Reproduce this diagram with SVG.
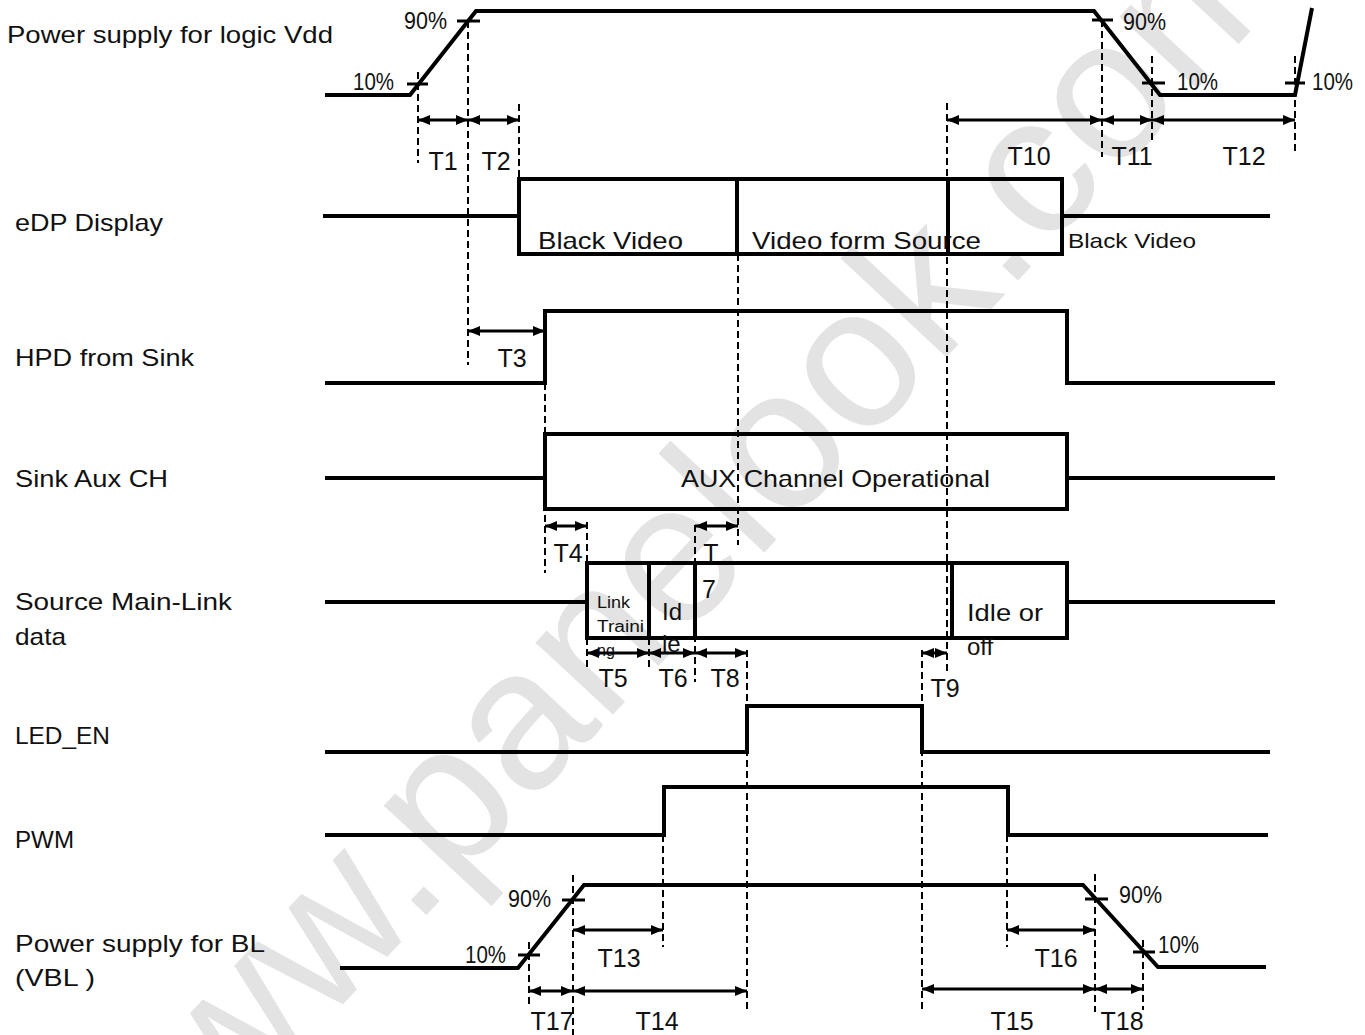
<svg xmlns="http://www.w3.org/2000/svg" width="1365" height="1035" viewBox="0 0 1365 1035">
<style>
text{font-family:"Liberation Sans",Arial,sans-serif;fill:#111}
.lbl{font-size:24px}
.t{font-size:25px;text-anchor:middle}
.pc{font-size:23px}
.sig{fill:none;stroke:#000;stroke-width:4;stroke-linejoin:miter}
.box{fill:none;stroke:#000;stroke-width:4}
.dash{fill:none;stroke:#000;stroke-width:2;stroke-dasharray:7 4}
.tick{stroke:#000;stroke-width:3}
.arr{stroke:#000;stroke-width:3;marker-start:url(#ah);marker-end:url(#ah)}
.wm{font-size:200px;fill:#e3e3e3}
</style>
<defs>
<marker id="ah" viewBox="0 0 12 10" refX="12" refY="5" markerWidth="12" markerHeight="10" markerUnits="userSpaceOnUse" orient="auto-start-reverse">
<path d="M0,0 L12,5 L0,10 z" fill="#000"/>
</marker>
</defs>
<rect width="1365" height="1035" fill="#fff"/>
<g id="watermark" transform="translate(126,1237) rotate(-47)">
<text class="wm" x="0" y="0">www.panelook.com</text>
</g>

<g id="labels">
<text class="lbl" x="7" y="43" textLength="326" lengthAdjust="spacingAndGlyphs">Power supply for logic Vdd</text>
<text class="lbl" x="15" y="231" textLength="148" lengthAdjust="spacingAndGlyphs">eDP Display</text>
<text class="lbl" x="15" y="366" textLength="179" lengthAdjust="spacingAndGlyphs">HPD from Sink</text>
<text class="lbl" x="15" y="487" textLength="153" lengthAdjust="spacingAndGlyphs">Sink Aux CH</text>
<text class="lbl" x="15" y="610" textLength="217" lengthAdjust="spacingAndGlyphs">Source Main-Link</text>
<text class="lbl" x="15" y="645" textLength="51" lengthAdjust="spacingAndGlyphs">data</text>
<text class="lbl" x="15" y="744" textLength="95" lengthAdjust="spacingAndGlyphs">LED_EN</text>
<text class="lbl" x="15" y="848" textLength="59" lengthAdjust="spacingAndGlyphs">PWM</text>
<text class="lbl" x="15" y="952" textLength="250" lengthAdjust="spacingAndGlyphs">Power supply for BL</text>
<text class="lbl" x="15" y="986" textLength="80" lengthAdjust="spacingAndGlyphs">(VBL )</text>
</g>

<g id="vdd">
<polyline class="sig" points="325,95 410,95 476,11 1094,11 1160,95 1295,95 1312,8"/>
<line class="tick" x1="407" y1="84" x2="428" y2="84"/>
<line class="tick" x1="457" y1="21" x2="480" y2="21"/>
<line class="tick" x1="1092" y1="20" x2="1113" y2="20"/>
<line class="tick" x1="1142" y1="83" x2="1165" y2="83"/>
<line class="tick" x1="1285" y1="83" x2="1305" y2="83"/>
<text class="pc" x="404" y="29" textLength="43" lengthAdjust="spacingAndGlyphs">90%</text>
<text class="pc" x="353" y="90" textLength="41" lengthAdjust="spacingAndGlyphs">10%</text>
<text class="pc" x="1123" y="30" textLength="43" lengthAdjust="spacingAndGlyphs">90%</text>
<text class="pc" x="1177" y="90" textLength="41" lengthAdjust="spacingAndGlyphs">10%</text>
<text class="pc" x="1312" y="90" textLength="41" lengthAdjust="spacingAndGlyphs">10%</text>
</g>

<g id="edp">
<line class="sig" x1="323" y1="216" x2="519" y2="216"/>
<rect class="box" x="519" y="179" width="543" height="75"/>
<line class="sig" x1="737" y1="179" x2="737" y2="254"/>
<line class="sig" x1="948" y1="179" x2="948" y2="254"/>
<line class="sig" x1="1062" y1="216" x2="1270" y2="216"/>
<text class="lbl" x="538" y="249" textLength="145" lengthAdjust="spacingAndGlyphs">Black Video</text>
<text class="lbl" x="752" y="249" textLength="229" lengthAdjust="spacingAndGlyphs">Video form Source</text>
<text class="lbl" x="1068" y="248" textLength="128" lengthAdjust="spacingAndGlyphs" style="font-size:21px">Black Video</text>
</g>

<g id="hpd">
<polyline class="sig" points="325,383 545,383 545,311 1067,311 1067,383 1275,383"/>
</g>

<g id="aux">
<line class="sig" x1="325" y1="478" x2="545" y2="478"/>
<rect class="box" x="545" y="434" width="522" height="75"/>
<line class="sig" x1="1067" y1="478" x2="1275" y2="478"/>
<text class="lbl" x="681" y="487" textLength="309" lengthAdjust="spacingAndGlyphs">AUX Channel Operational</text>
</g>

<g id="mainlink">
<line class="sig" x1="325" y1="602" x2="587" y2="602"/>
<rect class="box" x="587" y="563" width="480" height="75"/>
<line class="sig" x1="649" y1="563" x2="649" y2="638"/>
<line class="sig" x1="695" y1="563" x2="695" y2="638"/>
<line class="sig" x1="952" y1="563" x2="952" y2="638"/>
<line class="sig" x1="1067" y1="602" x2="1275" y2="602"/>
<text x="597" y="608" style="font-size:16px" textLength="33" lengthAdjust="spacingAndGlyphs">Link</text>
<text x="597" y="632" style="font-size:16px" textLength="47" lengthAdjust="spacingAndGlyphs">Traini</text>
<text x="597" y="656" style="font-size:16px">ng</text>
<text class="lbl" x="662" y="620">Id</text>
<text class="lbl" x="662" y="652">le</text>
<text class="lbl" x="967" y="621" textLength="76" lengthAdjust="spacingAndGlyphs">Idle or</text>
<text class="lbl" x="967" y="655">off</text>
</g>

<g id="led_en">
<polyline class="sig" points="325,752 747,752 747,706 922,706 922,752 1270,752"/>
</g>

<g id="pwm">
<polyline class="sig" points="325,835 664,835 664,787 1008,787 1008,835 1268,835"/>
</g>

<g id="vbl">
<polyline class="sig" points="340,968 518,968 584,885 1083,885 1158,967 1266,967"/>
<line class="tick" x1="518" y1="955" x2="540" y2="955"/>
<line class="tick" x1="562" y1="900" x2="585" y2="900"/>
<line class="tick" x1="1085" y1="899" x2="1108" y2="899"/>
<line class="tick" x1="1133" y1="952" x2="1155" y2="952"/>
<text class="pc" x="508" y="907" textLength="43" lengthAdjust="spacingAndGlyphs">90%</text>
<text class="pc" x="465" y="963" textLength="41" lengthAdjust="spacingAndGlyphs">10%</text>
<text class="pc" x="1119" y="903" textLength="43" lengthAdjust="spacingAndGlyphs">90%</text>
<text class="pc" x="1158" y="953" textLength="41" lengthAdjust="spacingAndGlyphs">10%</text>
</g>

<g id="connectors">
<line class="dash" x1="418" y1="72" x2="418" y2="163"/>
<line class="dash" x1="468" y1="21" x2="468" y2="365"/>
<line class="dash" x1="519" y1="104" x2="519" y2="254"/>
<line class="dash" x1="947" y1="103" x2="947" y2="672"/>
<line class="dash" x1="1102" y1="20" x2="1102" y2="157"/>
<line class="dash" x1="1152" y1="56" x2="1152" y2="143"/>
<line class="dash" x1="1295" y1="56" x2="1295" y2="155"/>
<line class="dash" x1="545" y1="383" x2="545" y2="573"/>
<line class="dash" x1="738" y1="254" x2="738" y2="545"/>
<line class="dash" x1="587" y1="522" x2="587" y2="563"/>
<line class="dash" x1="587" y1="638" x2="587" y2="670"/>
<line class="dash" x1="649" y1="638" x2="649" y2="668"/>
<line class="dash" x1="695" y1="525" x2="695" y2="682"/>
<line class="dash" x1="747" y1="650" x2="747" y2="1012"/>
<line class="dash" x1="922" y1="650" x2="922" y2="1012"/>
<line class="dash" x1="663" y1="835" x2="663" y2="947"/>
<line class="dash" x1="1007" y1="835" x2="1007" y2="947"/>
<line class="dash" x1="529" y1="942" x2="529" y2="1008"/>
<line class="dash" x1="573" y1="875" x2="573" y2="1035"/>
<line class="dash" x1="1095" y1="874" x2="1095" y2="1012"/>
<line class="dash" x1="1143" y1="940" x2="1143" y2="1010"/>

<line class="arr" x1="418" y1="120" x2="468" y2="120"/>
<line class="arr" x1="468" y1="120" x2="519" y2="120"/>
<line class="arr" x1="947" y1="120" x2="1102" y2="120"/>
<line class="arr" x1="1102" y1="120" x2="1152" y2="120"/>
<line class="arr" x1="1152" y1="120" x2="1295" y2="120"/>
<line class="arr" x1="468" y1="331" x2="545" y2="331"/>
<line class="arr" x1="545" y1="526" x2="587" y2="526"/>
<line class="arr" x1="695" y1="526" x2="738" y2="526"/>
<line class="arr" x1="587" y1="653" x2="649" y2="653"/>
<line class="arr" x1="649" y1="653" x2="695" y2="653"/>
<line class="arr" x1="695" y1="653" x2="747" y2="653"/>
<line class="arr" x1="922" y1="653" x2="947" y2="653"/>
<line class="arr" x1="573" y1="930" x2="663" y2="930"/>
<line class="arr" x1="1007" y1="930" x2="1095" y2="930"/>
<line class="arr" x1="529" y1="991" x2="573" y2="991"/>
<line class="arr" x1="573" y1="991" x2="747" y2="991"/>
<line class="arr" x1="922" y1="989" x2="1095" y2="989"/>
<line class="arr" x1="1095" y1="989" x2="1143" y2="989"/>
</g>

<g id="timing-labels">
<text class="t" x="443" y="170">T1</text>
<text class="t" x="496" y="170">T2</text>
<text class="t" x="1029" y="165">T10</text>
<text class="t" x="1132" y="165">T11</text>
<text class="t" x="1244" y="165">T12</text>
<text class="t" x="512" y="367">T3</text>
<text class="t" x="568" y="562">T4</text>
<text class="t" x="711" y="562">T</text>
<text class="t" x="709" y="598">7</text>
<text class="t" x="613" y="687">T5</text>
<text class="t" x="673" y="687">T6</text>
<text class="t" x="725" y="687">T8</text>
<text class="t" x="945" y="697">T9</text>
<text class="t" x="619" y="967">T13</text>
<text class="t" x="1056" y="967">T16</text>
<text class="t" x="552" y="1030">T17</text>
<text class="t" x="657" y="1030">T14</text>
<text class="t" x="1012" y="1030">T15</text>
<text class="t" x="1122" y="1030">T18</text>
</g>
</svg>
